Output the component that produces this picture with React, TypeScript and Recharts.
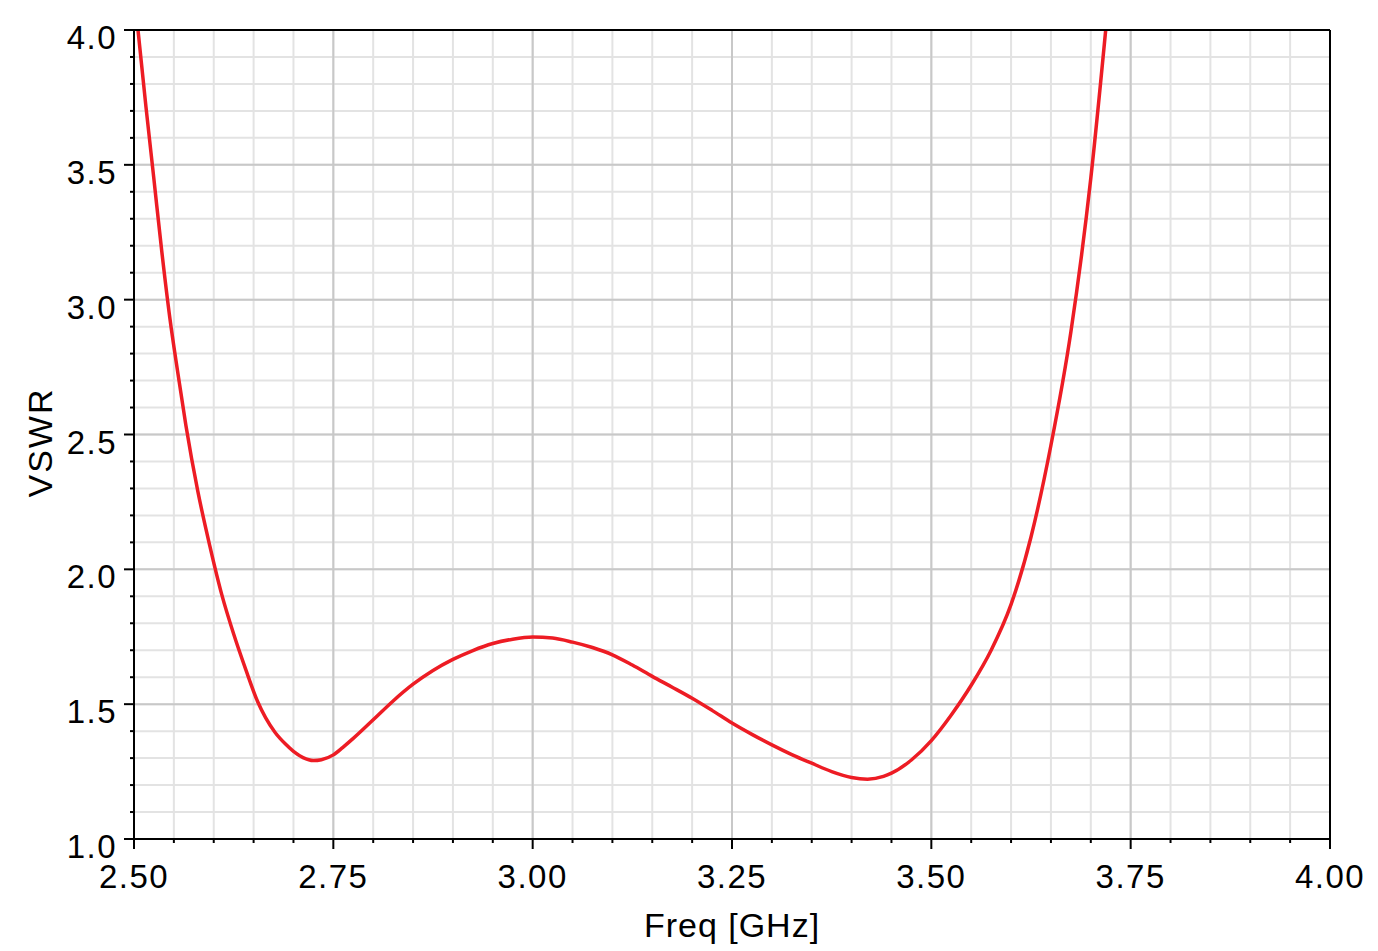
import React from "react";
import { CartesianGrid, Line, LineChart, ReferenceLine, XAxis, YAxis } from "recharts";

// frequency in GHz and VSWR
const freqGHz = [
  2.505, 2.515, 2.525, 2.535, 2.545, 2.555, 2.565, 2.58, 2.595, 2.61, 2.625, 2.64, 2.655, 2.665,
  2.677, 2.69, 2.7, 2.712, 2.725, 2.735, 2.75, 2.762, 2.775, 2.8, 2.825, 2.85, 2.875, 2.9, 2.925, 2.95,
  2.975, 3.0, 3.025, 3.05, 3.075, 3.1, 3.125, 3.15, 3.175, 3.2, 3.225, 3.25, 3.275, 3.3, 3.325, 3.35,
  3.375, 3.4, 3.42, 3.44, 3.45, 3.475, 3.5, 3.525, 3.55, 3.575, 3.6, 3.625, 3.65, 3.675, 3.7, 3.7187,
];
const vswr = [
  4.0, 3.715, 3.446, 3.175, 2.931, 2.728, 2.535, 2.29, 2.088, 1.907, 1.76, 1.63, 1.51, 1.45, 1.395,
  1.352, 1.325, 1.302, 1.291, 1.294, 1.312, 1.34, 1.373, 1.442, 1.512, 1.574, 1.625, 1.666, 1.699,
  1.725, 1.741, 1.749, 1.745, 1.73, 1.71, 1.683, 1.645, 1.603, 1.563, 1.522, 1.477, 1.43, 1.388,
  1.349, 1.313, 1.281, 1.25, 1.228, 1.222, 1.232, 1.244, 1.293, 1.365, 1.46, 1.57, 1.7, 1.87, 2.12,
  2.46, 2.88, 3.45, 4.0,
];

const xMajorTicks = [2.5, 2.75, 3.0, 3.25, 3.5, 3.75, 4.0];
const xMajorLabels = ["2.50", "2.75", "3.00", "3.25", "3.50", "3.75", "4.00"];
const xMinorTicks = [
  2.55, 2.6, 2.65, 2.7, 2.8, 2.85, 2.9, 2.95, 3.05, 3.1, 3.15, 3.2, 3.3, 3.35, 3.4, 3.45, 3.55, 3.6,
  3.65, 3.7, 3.8, 3.85, 3.9, 3.95,
];
const yMajorTicks = [1.0, 1.5, 2.0, 2.5, 3.0, 3.5, 4.0];
const yMajorLabels = ["1.0", "1.5", "2.0", "2.5", "3.0", "3.5", "4.0"];
const yMinorTicks = [
  1.1, 1.2, 1.3, 1.4, 1.6, 1.7, 1.8, 1.9, 2.1, 2.2, 2.3, 2.4, 2.6, 2.7, 2.8, 2.9, 3.1, 3.2, 3.3, 3.4,
  3.6, 3.7, 3.8, 3.9,
];

const FONT = "'Liberation Sans', Arial, Helvetica, sans-serif";
const RED = "#ed1c24";
const MINOR_GRID = "#e3e3e3";
const MAJOR_GRID = "#c8c8c8";

const data = freqGHz.map((f, i) => ({ freq: f, vswr: vswr[i] }));
const xTicks = [...xMajorTicks, ...xMinorTicks].sort((a, b) => a - b);
const yTicks = [...yMajorTicks, ...yMinorTicks].sort((a, b) => a - b);

const near = (a: number, b: number) => Math.abs(a - b) < 1e-9;

function FreqTick({ x, y, payload }: any) {
  const idx = xMajorTicks.findIndex((t) => near(t, payload.value));
  const major = idx >= 0;
  return (
    <g>
      <line x1={x} x2={x} y1={y} y2={y + (major ? 10 : 4)} stroke="#000" strokeWidth={2} />
      {major && (
        <text x={x} y={y + 49} textAnchor="middle" fontSize={33} fontFamily={FONT} letterSpacing={1.5} fill="#000">
          {xMajorLabels[idx]}
        </text>
      )}
    </g>
  );
}

function VswrTick({ x, y, payload }: any) {
  const idx = yMajorTicks.findIndex((t) => near(t, payload.value));
  const major = idx >= 0;
  return (
    <g>
      <line x1={x} x2={x - (major ? 10 : 4)} y1={y} y2={y} stroke="#000" strokeWidth={2} />
      {major && (
        <text x={x - 17} y={y + 19} textAnchor="end" fontSize={33} fontFamily={FONT} letterSpacing={1.5} fill="#000">
          {yMajorLabels[idx]}
        </text>
      )}
    </g>
  );
}

function XTitle({ viewBox }: any) {
  const { x, y, width } = viewBox;
  return (
    <text x={x + width / 2} y={y + 98} textAnchor="middle" fontSize={34} fontFamily={FONT} letterSpacing={1} fill="#000">
      Freq [GHz]
    </text>
  );
}

function YTitle({ viewBox }: any) {
  const { x, y, height } = viewBox;
  const cx = x + 44;
  const cy = y + height / 2 + 8;
  return (
    <text
      x={cx}
      y={cy}
      transform={`rotate(-90 ${cx} ${cy})`}
      textAnchor="middle"
      fontSize={34}
      fontFamily={FONT}
      letterSpacing={2}
      fill="#000"
    >
      VSWR
    </text>
  );
}

export default function App() {
  return (
    <div style={{ width: 1370, height: 943, background: "#fff" }}>
      <LineChart width={1370} height={943} data={data} margin={{ top: 22, right: 48, left: 0, bottom: 0 }}>
        <CartesianGrid stroke={MINOR_GRID} strokeWidth={2} />
        {xMajorTicks.slice(1, -1).map((t) => (
          <ReferenceLine key={`vx${t}`} x={t} stroke={MAJOR_GRID} strokeWidth={2} />
        ))}
        {yMajorTicks.slice(1, -1).map((t) => (
          <ReferenceLine key={`hy${t}`} y={t} stroke={MAJOR_GRID} strokeWidth={2} />
        ))}
        <XAxis
          dataKey="freq"
          type="number"
          domain={[2.5, 4.0]}
          ticks={xTicks}
          interval={0}
          tick={<FreqTick />}
          tickLine={false}
          tickSize={0}
          tickMargin={0}
          height={112}
          axisLine={{ stroke: "#000", strokeWidth: 2 }}
          label={<XTitle />}
        />
        <YAxis
          type="number"
          domain={[1.0, 4.0]}
          ticks={yTicks}
          interval={0}
          tick={<VswrTick />}
          tickLine={false}
          tickSize={0}
          tickMargin={0}
          width={126}
          axisLine={{ stroke: "#000", strokeWidth: 2 }}
          label={<YTitle />}
        />
        <Line
          type="monotone"
          dataKey="vswr"
          stroke={RED}
          strokeWidth={3.5}
          dot={false}
          activeDot={false}
          isAnimationActive={false}
        />
        <ReferenceLine x={4.0} stroke="#000" strokeWidth={2} ifOverflow="visible" />
        <ReferenceLine y={4.0} stroke="#000" strokeWidth={2} ifOverflow="visible" />
      </LineChart>
    </div>
  );
}
